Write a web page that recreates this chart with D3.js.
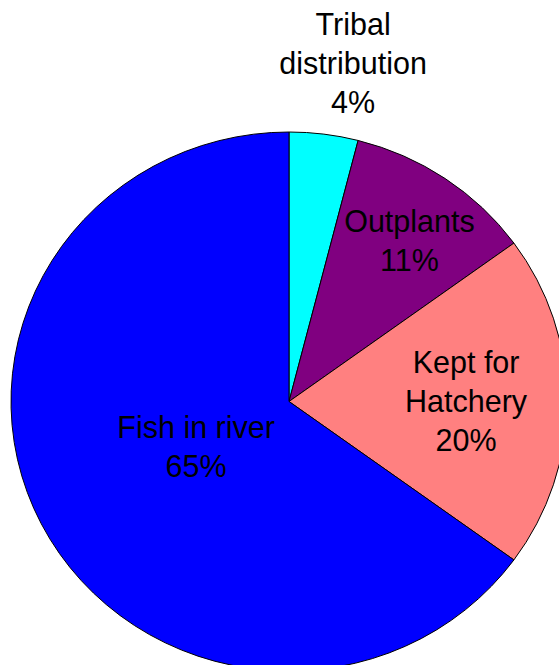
<!DOCTYPE html>
<html>
<head>
<meta charset="utf-8">
<script src="https://cdn.jsdelivr.net/npm/d3@7"></script>
<style>
  html, body { margin: 0; padding: 0; background: #fff; }
  svg { display: block; }
  text { font-family: "Liberation Sans", Arial, sans-serif; fill: #000; }
</style>
</head>
<body>
<script>
// ---- data ----
const categories = ["Tribal distribution", "Outplants", "Kept for Hatchery", "Fish in river"];
const values = [4, 11, 20, 65];
const labelLines = [["Tribal", "distribution", "4%"], ["Outplants", "11%"], ["Kept for", "Hatchery", "20%"], ["Fish in river", "65%"]];
const colors = ["#00FFFF", "#800080", "#FF8080", "#0000FF"];

// ---- layout ----
const W = 559, H = 665;
const cx = 289, cy = 401.5, rx = 278, ry = 269.5;
const fontSize = 30.5, lineH = 39;
// label placement factors (kx, ky) relative to slice mid-angle
const labelK = [[1.84, 1.266], [0.771, 0.724], [0.637, 0.637], [0.375, 0.372]];

const svg = d3.select("body").append("svg").attr("width", W).attr("height", H);

const pie = d3.pie().sort(null).value(d => d.v);
const data = categories.map((c, i) => ({ c, v: values[i], i }));
const arcs = pie(data);
const arc = d3.arc().innerRadius(0).outerRadius(ry);

const g = svg.append("g").attr("transform", `translate(${cx},${cy}) scale(${rx / ry},1)`);
g.selectAll("path").data(arcs).enter().append("path")
  .attr("d", arc)
  .attr("fill", d => colors[d.data.i])
  .attr("stroke", "#000")
  .attr("stroke-width", 1)
  .attr("vector-effect", "non-scaling-stroke")
  .attr("stroke-linejoin", "round");

const capH = 0.716 * fontSize;
const lbl = svg.append("g");
arcs.forEach(d => {
  const i = d.data.i;
  const mid = (d.startAngle + d.endAngle) / 2;
  const x = cx + rx * labelK[i][0] * Math.sin(mid);
  const y = cy - ry * labelK[i][1] * Math.cos(mid);
  const lines = labelLines[i];
  const y0 = y - (lines.length - 1) * lineH / 2 + capH / 2;
  const t = lbl.append("text")
    .attr("text-anchor", "middle")
    .attr("font-size", fontSize);
  lines.forEach((s, k) => {
    t.append("tspan").attr("x", x).attr("y", y0 + k * lineH).text(s);
  });
});
</script>
</body>
</html>
